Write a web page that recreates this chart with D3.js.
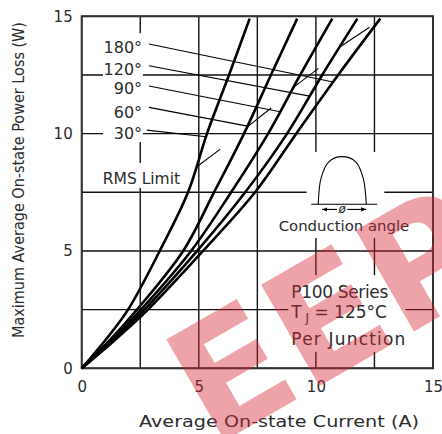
<!doctype html>
<html>
  <head>
    <script src="https://cdnjs.cloudflare.com/ajax/libs/d3/7.8.5/d3.min.js" type="text/javascript"></script>
    <style>
      body { margin: 0; background: #fff; }
      text {
        font-family: "DejaVu Sans", sans-serif;
        fill: #2b2b2b;
      }
      .grid line { stroke: #111; stroke-width: 1.4px; }
      .curve { fill: none; stroke: #000; stroke-width: 2.6px; }
      .thin { fill: none; stroke: #000; stroke-width: 1.1px; }
    </style>
  </head>
  <body>
    <svg id="chart" width="442" height="434"></svg>

    <script>
      // grid and axis ticks
      var gridValues = [0, 2.5, 5, 7.5, 10, 12.5, 15];
      var tickValues = [0, 5, 10, 15];

      // power loss (W) at which each curve was read
      var powerLevels = [0, 1.25, 2.5, 5, 7.5, 10, 12.5, 14.9];
      // average current (A) of each conduction angle at those power levels
      var current30  = [0, 1.05, 1.98, 3.33, 4.54, 5.35, 6.29, 7.17];
      var current60  = [0, 1.25, 2.36, 4.33, 5.65, 6.93, 8.08, 9.2];
      var current90  = [0, 1.32, 2.53, 4.67, 6.38, 7.96, 9.33, 10.7];
      var current120 = [0, 1.4, 2.68, 4.93, 6.98, 8.77, 10.27, 11.77];
      var current180 = [0, 1.47, 2.83, 5.18, 7.4, 9.16, 10.95, 12.75];

      var angles = ["30°", "60°", "90°", "120°", "180°"];
      var curves = [current30, current60, current90, current120, current180];

      // label column: text centre, leader start and leader end (W)
      var labelPower = [10.02, 10.92, 11.94, 12.75, 13.69];
      var leaderStart = [10.15, 11.12, 12.03, 12.89, 13.82];
      var leaderEnd = [9.87, 10.32, 10.93, 11.6, 12.2];

      // RMS limit marks on the 30..120 curves (W) and their direction
      var rmsPower = [8.57, 10.28, 11.97, 13.68];
      var rmsDx = [1.03, 1.03, 1.07, 1.28];
      var rmsDy = [0.77, 0.81, 0.81, 0.85];

      // conduction angle sketch, in chart units
      var pulse = [[10.1, 6.99], [10.22, 8.1], [10.55, 8.8], [11.12, 9.02],
                   [11.7, 8.8], [12.02, 8.1], [12.15, 6.99]];

      var svg = d3.select("#chart");
      var x = d3.scaleLinear().domain([0, 15]).range([81.7, 433]);
      var y = d3.scaleLinear().domain([0, 15]).range([368.3, 16.3]);

      // grid
      var grid = svg.append("g").attr("class", "grid");
      grid.selectAll("line.v").data(gridValues).enter().append("line")
        .attr("x1", d => x(d)).attr("x2", d => x(d))
        .attr("y1", y(0)).attr("y2", y(15));
      grid.selectAll("line.h").data(gridValues).enter().append("line")
        .attr("y1", d => y(d)).attr("y2", d => y(d))
        .attr("x1", x(0)).attr("x2", x(15));

      // white panels behind the labels
      var panels = [
        [0.91, 2.62, 14.28, 9.64],
        [0.78, 4.33, 8.75, 7.68],
        [9.6, 12.92, 9.22, 6.66],
        [8.35, 14.12, 6.74, 5.55],
        [8.82, 13.82, 3.97, 0.7]
      ];
      svg.append("g").selectAll("rect").data(panels).enter().append("rect")
        .attr("x", d => x(d[0])).attr("width", d => x(d[1]) - x(d[0]))
        .attr("y", d => y(d[2])).attr("height", d => y(d[3]) - y(d[2]))
        .attr("fill", "#fff");

      // frame
      svg.append("rect")
        .attr("x", x(0)).attr("y", y(15))
        .attr("width", x(15) - x(0)).attr("height", y(0) - y(15))
        .attr("fill", "none").attr("stroke", "#333").attr("stroke-width", 2);

      var line = d3.line()
        .x(d => x(d[0])).y(d => y(d[1]))
        .curve(d3.curveCatmullRom.alpha(0.5));

      svg.append("g").selectAll("path").data(curves).enter().append("path")
        .attr("class", "curve")
        .attr("d", c => line(c.map((v, i) => [v, powerLevels[i]])));

      function currentAt(c, p) {
        return d3.scaleLinear().domain(powerLevels).range(c)(p);
      }

      // leaders from angle labels
      svg.append("g").selectAll("line").data(angles).enter().append("line")
        .attr("class", "thin")
        .attr("x1", (d, i) => x(i === 0 ? 2.78 : 2.87))
        .attr("y1", (d, i) => y(leaderStart[i]))
        .attr("x2", (d, i) => x(currentAt(curves[i], leaderEnd[i])))
        .attr("y2", (d, i) => y(leaderEnd[i]));

      svg.append("g").selectAll("text").data(angles).enter().append("text")
        .attr("x", x(2.58))
        .attr("y", (d, i) => y(labelPower[i]))
        .attr("dy", "0.36em")
        .attr("text-anchor", "end")
        .style("font-size", "16px")
        .text(d => d);

      // RMS limit marks
      svg.append("g").selectAll("line").data(rmsPower).enter().append("line")
        .attr("class", "thin")
        .attr("x1", (d, i) => x(currentAt(curves[i], d)))
        .attr("y1", d => y(d))
        .attr("x2", (d, i) => x(currentAt(curves[i], d) + rmsDx[i]))
        .attr("y2", (d, i) => y(d + rmsDy[i]));

      svg.append("text")
        .attr("x", x(0.9)).attr("y", y(7.86))
        .style("font-size", "15.5px")
        .text("RMS Limit");

      // conduction angle sketch
      var sketch = svg.append("g");
      sketch.append("line").attr("class", "thin")
        .attr("x1", x(9.8)).attr("x2", x(12.62))
        .attr("y1", y(6.99)).attr("y2", y(6.99));
      sketch.append("path").attr("class", "thin")
        .attr("stroke-width", 1.3)
        .attr("d", d3.line().x(d => x(d[0])).y(d => y(d[1]))
          .curve(d3.curveCatmullRom)(pulse));
      svg.append("defs").append("marker")
        .attr("id", "arr").attr("viewBox", "0 0 10 10")
        .attr("refX", 10).attr("refY", 5)
        .attr("markerWidth", 5).attr("markerHeight", 5)
        .attr("orient", "auto-start-reverse")
        .append("path").attr("d", "M0,1L10,5L0,9z").attr("fill", "#000");
      [[10.26, 10.9], [11.34, 12.15]].forEach(function (seg, i) {
        sketch.append("line").attr("class", "thin")
          .attr("x1", x(seg[0])).attr("x2", x(seg[1]))
          .attr("y1", y(6.77)).attr("y2", y(6.77))
          .attr(i === 0 ? "marker-start" : "marker-end", "url(#arr)");
      });
      sketch.append("text")
        .attr("x", x(11.12)).attr("y", y(6.77)).attr("dy", "0.32em")
        .attr("text-anchor", "middle")
        .style("font-size", "12px").style("font-style", "italic")
        .text("ø");
      svg.append("text")
        .attr("x", x(8.41)).attr("y", y(5.85))
        .style("font-size", "14.9px")
        .text("Conduction angle");

      // series note
      var note = svg.append("g").style("font-size", "17px");
      note.append("text").attr("x", x(8.95)).attr("y", y(3.0))
        .attr("textLength", 97).text("P100 Series");
      var tj = note.append("text").attr("x", x(8.95)).attr("y", y(2.15));
      tj.append("tspan").text("T");
      tj.append("tspan").attr("dy", 4).style("font-size", "12px").text(" J");
      tj.append("tspan").attr("dy", -4).text(" = 125°C");
      note.append("text").attr("x", x(8.95)).attr("y", y(1.0))
        .attr("textLength", 114).text("Per Junction");

      // axes
      var yAxis = svg.append("g")
        .attr("transform", `translate(${x(0) - 9},0)`)
        .call(d3.axisLeft(y).tickValues(tickValues).tickSize(0).tickPadding(0));
      var xAxis = svg.append("g")
        .attr("transform", `translate(0,${y(0) + 13})`)
        .call(d3.axisBottom(x).tickValues(tickValues).tickSize(0).tickPadding(0));
      [yAxis, xAxis].forEach(function (a) {
        a.select(".domain").remove();
        a.selectAll("text")
          .style("font-size", "15px")
          .style("font-family", "\"DejaVu Sans\", sans-serif")
          .attr("fill", "#2b2b2b");
      });

      svg.append("text")
        .attr("x", 279).attr("y", 427)
        .attr("text-anchor", "middle")
        .attr("textLength", 280).attr("lengthAdjust", "spacingAndGlyphs")
        .style("font-size", "16.5px")
        .text("Average On-state Current (A)");
      svg.append("text")
        .attr("transform", "translate(24,180) rotate(-90)")
        .attr("text-anchor", "middle")
        .attr("textLength", 316).attr("lengthAdjust", "spacingAndGlyphs")
        .style("font-size", "16.5px")
        .text("Maximum Average On-state Power Loss (W)");

      // watermark
      svg.append("text")
        .attr("transform", "translate(212,448) rotate(-30)")
        .style("font-size", "160px")
        .style("font-weight", "bold")
        .style("fill", "rgb(212,35,50)")
        .style("fill-opacity", 0.42)
        .text("EEP");
    </script>
  </body>
</html>
